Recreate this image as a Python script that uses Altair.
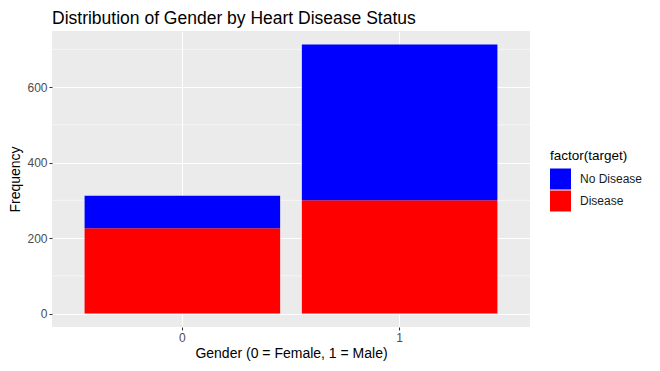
import altair as alt
import pandas as pd

# Data (heart disease dataset counts)
sex = ["0", "0", "1", "1"]
status = ["Disease", "No Disease", "Disease", "No Disease"]
count = [226, 86, 300, 413]

y_ticks = [0, 200, 400, 600]
y_minor = [100, 300, 500, 700]
legend_order = ["No Disease", "Disease"]
colors = ["#0000FF", "#FF0000"]

df = pd.DataFrame({"sex": sex, "status": status, "count": count})
minor_df = pd.DataFrame({"v": y_minor})

FONT = "Liberation Sans"
ymin, ymax = -35.65, 748.65

yscale = alt.Scale(domain=[ymin, ymax], nice=False, zero=False)

minor = alt.Chart(minor_df).mark_rule(color="white", strokeWidth=0.55).encode(
    y=alt.Y("v:Q", scale=yscale)
)

bars = alt.Chart(df).mark_bar(stroke=None).encode(
    x=alt.X(
        "sex:N",
        scale=alt.Scale(paddingInner=0.1, paddingOuter=0.15),
        axis=alt.Axis(
            title="Gender (0 = Female, 1 = Male)",
            labelAngle=0,
            grid=True,
            bandPosition=0.5,
        ),
    ),
    y=alt.Y(
        "count:Q",
        stack="zero",
        scale=yscale,
        axis=alt.Axis(title="Frequency", values=y_ticks, grid=True),
    ),
    color=alt.Color(
        "status:N",
        scale=alt.Scale(domain=legend_order, range=colors),
        legend=alt.Legend(
            title="factor(target)",
            orient="none",
            legendX=498,
            legendY=118,
            symbolType="square",
            symbolSize=441,
            symbolStrokeWidth=0,
            symbolOpacity=1,
            rowPadding=1,
            labelOffset=9,
            titlePadding=6,
            titleFontSize=13.5,
            titleFontWeight="normal",
            titleColor="black",
            titleFont=FONT,
            labelFont=FONT,
            labelFontSize=12,
            labelColor="#1A1A1A",
            labelLimit=200,
        ),
    ),
    order=alt.Order("status:N", sort="ascending"),
)

chart = (
    alt.layer(minor, bars)
    .properties(
        width=478,
        height=296,
        title=alt.TitleParams(
            "Distribution of Gender by Heart Disease Status",
            anchor="start",
            frame="group",
            fontSize=17.5,
            fontWeight="normal",
            font=FONT,
            color="black",
            offset=4,
        ),
        autosize=alt.AutoSizeParams(type="none"),
        padding={"left": 44, "top": 23, "right": 122, "bottom": 34},
    )
    .configure_view(fill="#EBEBEB", stroke=None)
    .configure_axis(
        domain=False,
        gridColor="white",
        gridWidth=1.07,
        tickColor="#333333",
        tickSize=3,
        tickWidth=1.07,
        labelColor="#4D4D4D",
        labelFont=FONT,
        labelFontSize=12,
        labelPadding=2,
        titleFont=FONT,
        titleFontSize=14,
        titleFontWeight="normal",
        titleColor="black",
    )
    .configure_axisX(titlePadding=3)
    .configure_axisY(titlePadding=4)
)

chart.save("out.html", embed_options={"renderer": "svg", "actions": False})
